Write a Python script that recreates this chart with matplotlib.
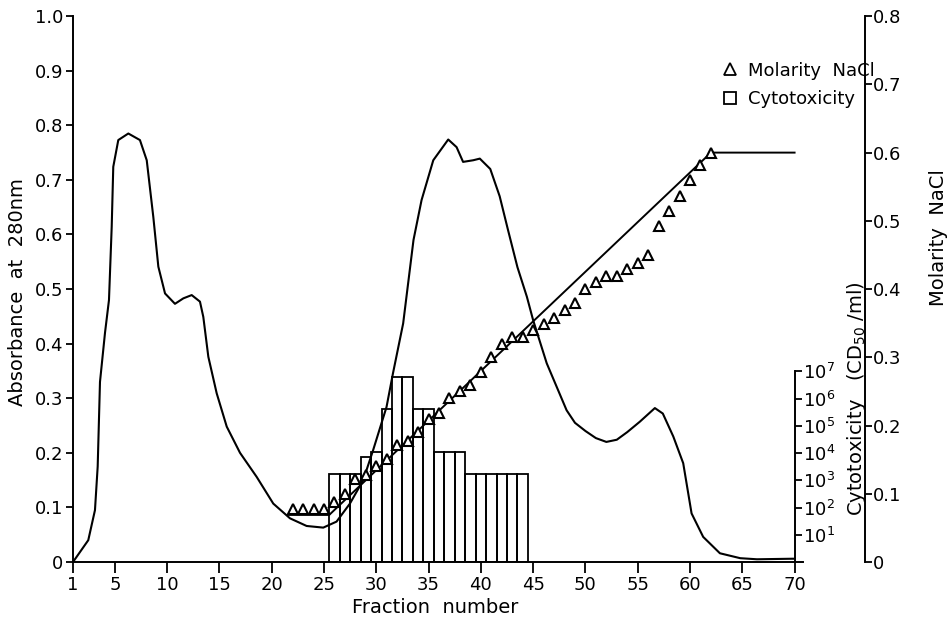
import matplotlib
matplotlib.use("Agg")
import matplotlib.pyplot as plt
from matplotlib.lines import Line2D

plt.rcParams['font.family'] = ['DejaVu Sans']

# absorbance at 280nm
abs_x = [1, 2.46, 3.1, 3.36, 3.58, 4.06, 4.44, 4.7, 4.85, 5.33, 6.29, 7.4, 8.05, 8.68, 9.16, 9.8,
         10.75, 11.55, 12.35, 13.14, 13.46, 13.94, 14.74, 15.7, 16.97, 18.56, 20.15, 21.75, 23.34,
         24.93, 26.2, 27.48, 28.75, 29.7, 30.98, 31.6, 32.57, 33.56, 34.33, 35.45, 36.88, 37.68,
         38.3, 39.27, 39.9, 40.9, 41.8, 42.6, 43.5, 44.4, 45.0, 46.3, 48.2, 49, 50, 51, 52, 53, 54,
         55.2, 56.64, 57.4, 58.4, 59.35, 60.15, 61.26, 62.86, 64.8, 66.4, 69.8, 70]
abs_y = [0.0, 0.04, 0.095, 0.175, 0.33, 0.42, 0.48, 0.614, 0.724, 0.773, 0.785, 0.773, 0.736, 0.632,
         0.541, 0.492, 0.473, 0.483, 0.489, 0.477, 0.449, 0.376, 0.309, 0.248, 0.2, 0.156, 0.107,
         0.08, 0.066, 0.063, 0.074, 0.107, 0.15, 0.205, 0.284, 0.346, 0.437, 0.59, 0.663, 0.736,
         0.774, 0.76, 0.733, 0.736, 0.739, 0.72, 0.67, 0.608, 0.54, 0.486, 0.443, 0.364, 0.278,
         0.255, 0.24, 0.227, 0.22, 0.224, 0.238, 0.257, 0.282, 0.272, 0.23, 0.181, 0.089, 0.046,
         0.016, 0.007, 0.005, 0.006, 0.006]

# NaCl gradient (programmed) and measured molarity
grad_x = [21.6, 25.5, 62, 70]
grad_m = [0.069, 0.069, 0.6, 0.6]
mol_x = list(range(22, 63))
mol_m = [0.078, 0.078, 0.078, 0.078, 0.088, 0.10, 0.122, 0.127, 0.141, 0.151, 0.171, 0.178,
         0.191, 0.21, 0.219, 0.24, 0.25, 0.259, 0.279, 0.30, 0.319, 0.33, 0.33, 0.34, 0.349,
         0.358, 0.369, 0.38, 0.40, 0.41, 0.419, 0.419, 0.429, 0.438, 0.45, 0.492, 0.514, 0.536,
         0.56, 0.582, 0.60]

# cytotoxicity (CD50/ml)
cyto_x = list(range(26, 45))
cyto_v = [1700, 1700, 1700, 7000, 11000, 4e5, 6.3e6, 6.3e6, 4e5, 4e5, 11000, 11000, 11000,
          1700, 1700, 1700, 1700, 1700, 1700]

fs = 13
lfs = 14
fig = plt.figure(figsize=(9.49, 6.21), dpi=100)
ax = fig.add_axes([0.0766, 0.095, 0.7695, 0.879])
ax.plot(abs_x, abs_y, color='black', lw=1.5)
ax.set_xlim(0.97, 70.8)
ax.set_ylim(0, 1.0)
ax.spines['top'].set_visible(False)
ax.spines['right'].set_visible(False)
for s in ['left', 'bottom']:
    ax.spines[s].set_linewidth(1.4)
ax.set_xticks([1] + list(range(5, 71, 5)))
ax.set_xticks(range(1, 71), minor=True)
ax.set_yticks([i / 10 for i in range(11)])
ax.set_yticklabels(['0'] + ['%.1f' % (i / 10) for i in range(1, 11)])
ax.tick_params(axis='x', which='major', length=8, width=1.3, labelsize=fs, pad=2)
ax.tick_params(axis='x', which='minor', length=5, width=1.3)
ax.tick_params(axis='y', length=5, width=1.3, labelsize=fs, pad=2)
ax.set_xlabel('Fraction  number', fontsize=lfs, va='center')
ax.xaxis.set_label_coords(0.496, -0.084)
ax.set_ylabel('Absorbance  at  280nm', fontsize=lfs, va='center')
ax.yaxis.set_label_coords(-0.075, 0.494)

# molarity axis
ax2 = ax.twinx()
ax2.set_ylim(0, 0.8)
for s in ['top', 'left', 'bottom']:
    ax2.spines[s].set_visible(False)
ax2.spines['right'].set_position(('axes', 1.085))
ax2.spines['right'].set_linewidth(1.4)
ax2.set_yticks([i / 10 for i in range(9)])
ax2.set_yticklabels(['0'] + ['%.1f' % (i / 10) for i in range(1, 9)])
ax2.tick_params(axis='y', length=5, width=1.3, labelsize=fs, pad=1)
ax2.plot(grad_x, grad_m, color='black', lw=1.4)
ax2.plot(mol_x, mol_m, linestyle='none', marker='^', markersize=7.5, markerfacecolor='white',
         markeredgecolor='black', markeredgewidth=1.5)
ax2.set_ylabel('Molarity  NaCl', fontsize=lfs, va='center')
ax2.yaxis.set_label_coords(1.185, 0.595)

# cytotoxicity axis
ax3 = ax.twinx()
ax3.set_yscale('log')
ax3.set_ylim(1, 10 ** 20.05)
for s in ['top', 'left', 'bottom']:
    ax3.spines[s].set_visible(False)
ax3.spines['right'].set_position(('data', 70))
ax3.spines['right'].set_bounds(1, 1e7)
ax3.spines['right'].set_linewidth(1.4)
ax3.bar(cyto_x, cyto_v, width=1, bottom=1, facecolor='none', edgecolor='black', lw=1.3)
ax3.set_yticks([10 ** k for k in range(1, 8)])
ax3.set_yticklabels(['$10^{%d}$' % k for k in range(1, 8)])
ax3.minorticks_off()
ax3.tick_params(axis='y', length=5, width=1.3, labelsize=fs, pad=1)
ax3.set_ylabel('Cytotoxicity   (CD$_{50}$ /ml)', fontsize=lfs, va='center')
ax3.yaxis.set_label_coords(1.073, 0.30)

handles = [Line2D([], [], linestyle='none', marker='^', markersize=8, markerfacecolor='white',
                  markeredgecolor='black', markeredgewidth=1.3),
           Line2D([], [], linestyle='none', marker='s', markersize=9, markerfacecolor='white',
                  markeredgecolor='black', markeredgewidth=1.3)]
ax.legend(handles, ['Molarity  NaCl', 'Cytotoxicity'], loc='upper left',
          bbox_to_anchor=(0.878, 0.93), frameon=False, fontsize=fs, handlelength=1,
          handletextpad=0.5, labelspacing=0.6, borderaxespad=0)

fig.savefig('out.png', dpi=100)
